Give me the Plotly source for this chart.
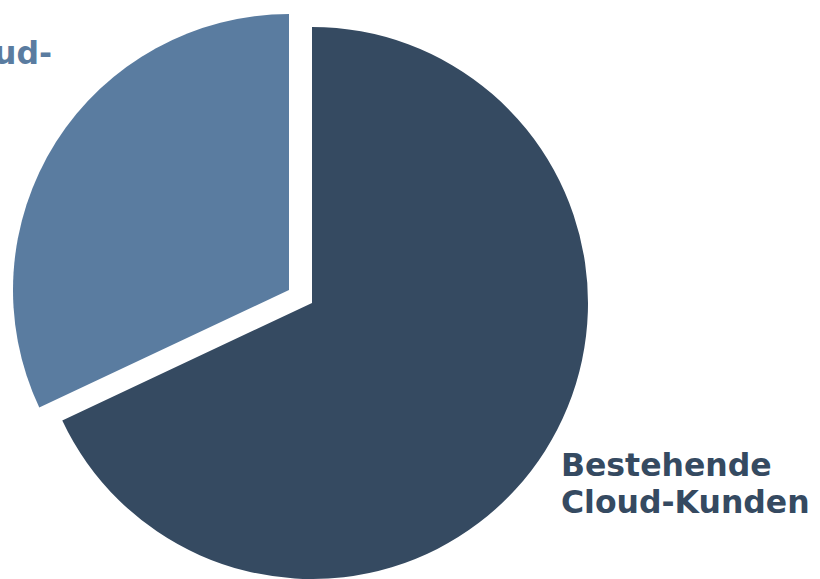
import plotly.graph_objects as go

# Customer split shown as a two-slice pie
segments = ["Bestehende Cloud-Kunden", "Neue Cloud-Kunden"]
shares = [68, 32]
label_lines = [["Bestehende", "Cloud-Kunden"], ["Neue Cloud-"]]

COLORS = ["#354a61", "#5a7ca0"]
W, H = 820, 579
R = 276                      # pie radius in px
CENTRE_MAIN = (312, 303)     # centre of the pie
CENTRE_OUT = (289, 290)      # centre of the exploded slice
FONT = "DejaVu Sans"
FONT_SIZE = 31.5
LINE_GAP = 36.7


def domain_for(cx, cy, r):
    return dict(x=[(cx - r) / W, (cx + r) / W],
                y=[(H - cy - r) / H, (H - cy + r) / H])


def pie_layer(visible_idx, centre):
    cols = [c if i == visible_idx else "rgba(0,0,0,0)" for i, c in enumerate(COLORS)]
    return go.Pie(
        labels=segments,
        values=shares,
        sort=False,
        direction="clockwise",
        rotation=0,
        marker=dict(colors=cols, line=dict(width=0)),
        textinfo="none",
        hoverinfo="label+percent",
        showlegend=False,
        domain=domain_for(*centre, R),
    )


fig = go.Figure()
fig.add_trace(pie_layer(0, CENTRE_MAIN))
fig.add_trace(pie_layer(1, CENTRE_OUT))

# Slice labels, one annotation per text line
label_specs = [
    dict(lines=label_lines[0], x=559, y=465.3, anchor="left", color=COLORS[0]),
    dict(lines=label_lines[1], x=54, y=53.3, anchor="right", color=COLORS[1]),
]
for spec in label_specs:
    for k, line in enumerate(spec["lines"]):
        fig.add_annotation(
            text=f"<b>{line}</b>",
            xref="paper", yref="paper",
            x=spec["x"] / W, y=1 - (spec["y"] + k * LINE_GAP) / H,
            xanchor=spec["anchor"], yanchor="middle",
            showarrow=False, align="left",
            font=dict(family=FONT, size=FONT_SIZE, color=spec["color"]),
        )

fig.update_layout(
    width=W, height=H,
    margin=dict(l=0, r=0, t=0, b=0),
    paper_bgcolor="white",
    plot_bgcolor="white",
)

fig.write_html("out.html")
